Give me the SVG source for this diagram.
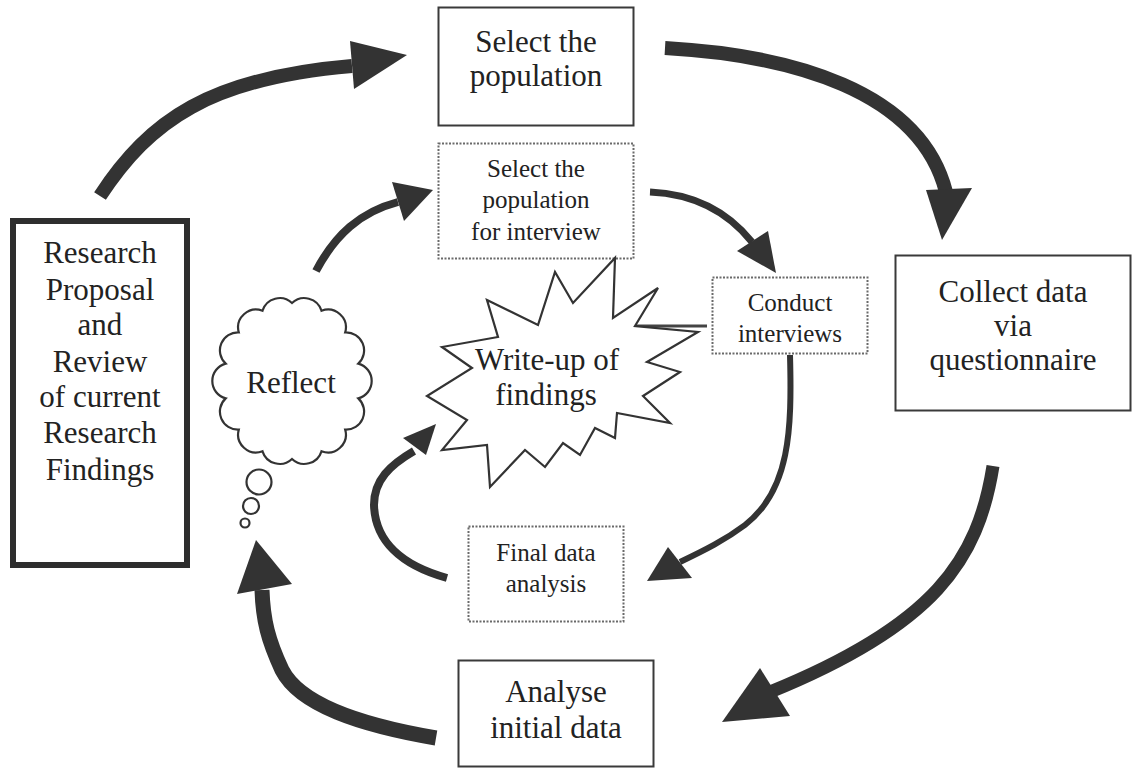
<svg xmlns="http://www.w3.org/2000/svg" width="1133" height="776" viewBox="0 0 1133 776">
<style>
.bg{fill:#ffffff}
.box{fill:#ffffff;stroke:#3a3a3a;stroke-width:2}
.thick{fill:#ffffff;stroke:#2e2e2e;stroke-width:6}
.dot{fill:#ffffff;stroke:#6a6a6a;stroke-width:2;stroke-dasharray:2 1.5}
.shape{fill:#ffffff;stroke:#333333;stroke-width:2.2;stroke-linejoin:miter}
.t{font-family:"Liberation Serif","Times New Roman",serif;fill:#222222;text-anchor:middle}
.big{font-size:31px}
.small{font-size:25px}
.shaft{fill:none;stroke:#333333;stroke-linecap:butt}
.head{fill:#333333;stroke:none}
</style>
<rect class="bg" x="0" y="0" width="1133" height="776"/>

<g id="connectors">
  <path class="shaft" stroke-width="14" d="M 100 196 C 150 120, 210 78, 352 66"/>
  <polygon class="head" points="350,41 407,55 354,89"/>
  <path class="shaft" stroke-width="14" d="M 665 48 C 790 55, 920 90, 946 192"/>
  <polygon class="head" points="926,190 972,188 942,240"/>
  <path class="shaft" stroke-width="13" d="M 993 466 C 978 560, 935 625, 770 692"/>
  <polygon class="head" points="760,668 722,722 790,716"/>
  <path class="shaft" stroke-width="15" d="M 436 738 C 360 725, 300 705, 282 670 C 268 640, 263 620, 262 590"/>
  <polygon class="head" points="237,594 256,540 292,584"/>
  <path class="shaft" stroke-width="8" d="M 316 271 C 335 235, 360 212, 398 202"/>
  <polygon class="head" points="392,182 433,190 404,221"/>
  <path class="shaft" stroke-width="7" d="M 650 192 C 695 194, 728 212, 752 242"/>
  <polygon class="head" points="737,251 768,231 776,273"/>
  <path class="shaft" stroke-width="6" d="M 790 355 C 792 430, 790 490, 745 525 C 725 540, 705 550, 680 562"/>
  <polygon class="head" points="647,581 668,547 692,578"/>
  <path class="shaft" stroke-width="8" d="M 447 578 C 400 565, 375 540, 374 505 C 374 480, 390 465, 414 451"/>
  <polygon class="head" points="403,438 436,424 426,455"/>
  <line x1="633" y1="326" x2="707" y2="326" stroke="#444444" stroke-width="3"/>
</g>

<g id="research">
  <rect class="thick" x="13" y="221" width="174" height="344"/>
  <text class="t big" x="100" y="263">Research</text>
  <text class="t big" x="100" y="300">Proposal</text>
  <text class="t big" x="100" y="335">and</text>
  <text class="t big" x="100" y="372">Review</text>
  <text class="t big" x="100" y="407">of current</text>
  <text class="t big" x="100" y="443">Research</text>
  <text class="t big" x="100" y="480">Findings</text>
</g>

<g id="select-population">
  <rect class="box" x="438.5" y="7.5" width="195" height="118"/>
  <text class="t big" x="536" y="52">Select the</text>
  <text class="t big" x="536" y="86">population</text>
</g>

<g id="select-interview">
  <rect class="dot" x="438.5" y="143.5" width="195" height="115"/>
  <text class="t small" x="536" y="177">Select the</text>
  <text class="t small" x="536" y="208">population</text>
  <text class="t small" x="536" y="240">for interview</text>
</g>

<g id="conduct">
  <rect class="dot" x="712.5" y="277.5" width="155" height="76"/>
  <text class="t small" x="790" y="311">Conduct</text>
  <text class="t small" x="790" y="342">interviews</text>
</g>

<g id="collect">
  <rect class="box" x="895.5" y="255.5" width="235" height="155"/>
  <text class="t big" x="1013" y="302">Collect data</text>
  <text class="t big" x="1013" y="336">via</text>
  <text class="t big" x="1013" y="370">questionnaire</text>
</g>

<g id="final">
  <rect class="dot" x="468.5" y="526.5" width="155" height="95"/>
  <text class="t small" x="546" y="561">Final data</text>
  <text class="t small" x="546" y="592">analysis</text>
</g>

<g id="analyse">
  <rect class="box" x="458.5" y="660.5" width="195" height="106"/>
  <text class="t big" x="556" y="702">Analyse</text>
  <text class="t big" x="556" y="738">initial data</text>
</g>

<g id="writeup">
  <polygon class="shape" points="487,300 538,325 555,272 573,303 615,258 613,318 658,288 635,326 698,332 647,362 680,372 643,396 670,423 617,413 615,438 595,428 580,455 563,443 545,467 525,450 490,487 487,445 442,450 467,420 427,396 472,368 442,347 498,337"/>
  <text class="t big" x="547" y="370">Write-up of</text>
  <text class="t big" x="546" y="405">findings</text>
</g>

<g id="reflect">
  <path class="shape" d="M 292 303 A 18 18 0 0 1 321.5 310.7 A 18 18 0 0 1 345.2 332.4 A 18 18 0 0 1 358.3 363.6 A 18 18 0 0 1 358.3 398.4 A 18 18 0 0 1 345.2 429.6 A 18 18 0 0 1 321.5 451.3 A 18 18 0 0 1 292 459 A 18 18 0 0 1 262.5 451.3 A 18 18 0 0 1 238.8 429.6 A 18 18 0 0 1 225.7 398.4 A 18 18 0 0 1 225.7 363.6 A 18 18 0 0 1 238.8 332.4 A 18 18 0 0 1 262.5 310.7 A 18 18 0 0 1 292 303 Z"/>
  <circle class="shape" cx="259" cy="482" r="12.5"/>
  <circle class="shape" cx="251" cy="506" r="8"/>
  <circle class="shape" cx="245" cy="523" r="4.5"/>
  <text class="t big" x="291" y="393">Reflect</text>
</g>
</svg>
